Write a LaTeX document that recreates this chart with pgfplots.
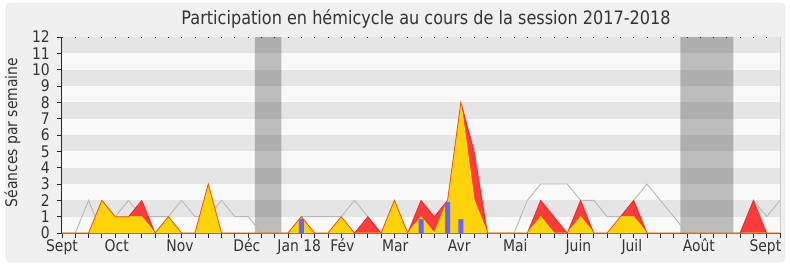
\documentclass[border=0pt]{standalone}
\usepackage{pgfplots}
\pgfplotsset{compat=1.18}
\usepackage{pgfplotstable}
\usepackage{fontspec}
\setmainfont{DejaVu Sans}[FakeStretch=0.87]
\usetikzlibrary{backgrounds}
\definecolor{txt}{HTML}{333333}
\definecolor{redf}{HTML}{FF3A3A}
\definecolor{redd}{HTML}{EE1111}
\definecolor{yel}{HTML}{FFD20A}
\definecolor{yeld}{HTML}{FFE81A}
\definecolor{blu}{HTML}{6666FF}
\definecolor{greyl}{HTML}{B8B8B8}
\definecolor{stripe}{HTML}{E5E5E5}
\definecolor{lightbg}{HTML}{F9F9F9}
\definecolor{outerbg}{HTML}{F0F0F0}
\definecolor{axbrown}{HTML}{3C1E1E}

\pgfplotstableread{
x G R Y
0 0 0 0
1 0 0 0
2 2 0 0
3 0 2 2
4 1 1 1
5 2 1 1
6 1 2 1
7 1 0 0
8 1 1 1
9 2 0 0
10 1 0 0
11 1 3 3
12 2 0 0
13 1 0 0
14 1 0 0
15 0 0 0
16 0 0 0
17 0 0 0
18 1 1 1
19 1 0 0
20 1 0 0
21 1 1 1
22 2 0 0
23 1 1 0
24 0 0 0
25 1 2 2
26 0 0 0
27 1 2 1
28 0 1 0
29 2 2 2
30 2 8 8
31 2 5 2
32 0 0 0
33 0 0 0
34 0 0 0
35 2 0 0
36 3 2 1
37 3 1 0
38 3 0 0
39 2 2 1
40 2 0 0
41 1 0 0
42 1 1 1
43 2 2 1
44 3 0 0
45 2 0 0
46 1 0 0
47 0 0 0
48 0 0 0
49 0 0 0
50 0 0 0
51 0 0 0
52 2 2 0
53 1 0 0
54 2 0 0
}\data

\begin{document}
\begin{tikzpicture}
\begin{axis}[
  name=ax, scale only axis, width=718bp, height=196bp,
  xmin=0, xmax=54, ymin=0, ymax=12,
  axis lines=left, axis line style={-},
  x axis line style={draw=axbrown, line width=1bp},
  y axis line style={draw=black!85, line width=1bp},
  axis background/.style={fill=lightbg},
  xtick={0,...,54}, xticklabels={},
  ytick={0,...,12},
  tick align=outside, major tick length=4.5bp,
  tick style={draw=black!85, line width=0.8bp},
  extra x ticks={0,4.12,8.87,13.9,17.84,21.08,25.06,29.88,34.1,38.84,42.86,47.9,52.9},
  extra x tick labels={Sept,Oct,Nov,Déc,Jan 18,Fév,Mar,Avr,Mai,Juin,Juil,Août,Sept},
  extra x tick style={major tick length=0pt, xticklabel style={anchor=base, inner sep=0pt, yshift=-18.3bp}},
  /pgf/number format/assume math mode=true,
  ticklabel style={font=\fontsize{16bp}{18bp}\selectfont, text=txt},
  yticklabel style={anchor=east, inner sep=0pt, xshift=-7.5bp},
  clip=false,
]
\fill[stripe] (axis cs:0,1) rectangle (axis cs:54,2);
\fill[stripe] (axis cs:0,3) rectangle (axis cs:54,4);
\fill[stripe] (axis cs:0,5) rectangle (axis cs:54,6);
\fill[stripe] (axis cs:0,7) rectangle (axis cs:54,8);
\fill[stripe] (axis cs:0,9) rectangle (axis cs:54,10);
\fill[stripe] (axis cs:0,11) rectangle (axis cs:54,12);
\addplot[fill=black, fill opacity=0.24, draw=none] coordinates {(14.5,0)(14.5,12)(16.5,12)(16.5,0)} \closedcycle;
\addplot[fill=black, fill opacity=0.24, draw=none] coordinates {(46.5,0)(46.5,12)(50.5,12)(50.5,0)} \closedcycle;
\addplot[draw=greyl, line width=0.9bp] table[x=x,y=G] {\data};
\addplot[fill=redf, draw=none] table[x=x,y=R] {\data} \closedcycle;
\addplot[fill=yel, draw=yeld, line width=0.8bp] table[x=x,y=Y] {\data} \closedcycle;
\addplot[draw=redd, draw opacity=0.7, line width=0.8bp] table[x=x,y=R] {\data};
\addplot[ybar, bar width=5bp, fill=blu, draw=none] coordinates {(18,0.85)(27,0.85)(29,1.9)(30,0.85)};
\pgfplotsinvokeforeach{0,...,54}{\draw[black!80, line width=0.8bp] (axis cs:#1,12) -- ++(0,-1.2bp);}
\draw[black!20, line width=0.8bp] (axis cs:54,0) -- (axis cs:54,12);
\end{axis}
\node[anchor=base, text=txt, font=\fontsize{18.5bp}{21bp}\selectfont] at ([xshift=5bp, yshift=12bp]ax.north) {Participation en hémicycle au cours de la session 2017-2018};
\node[rotate=90, text=txt, font=\fontsize{16bp}{18bp}\selectfont] at ([xshift=-49.5bp,yshift=2.5bp]ax.west) {Séances par semaine};
\begin{scope}[on background layer]
\fill[white] ([xshift=-62bp,yshift=-34bp]ax.south west) rectangle ([xshift=10bp,yshift=37bp]ax.north east);
\draw[fill=outerbg, draw=black!12, rounded corners=5bp] ([xshift=-56bp,yshift=-29bp]ax.south west) rectangle ([xshift=5bp,yshift=34bp]ax.north east);
\end{scope}
\pgfresetboundingbox
\path[use as bounding box] ([xshift=-62bp,yshift=-34bp]ax.south west) rectangle ([xshift=10bp,yshift=37bp]ax.north east);
\end{tikzpicture}
\end{document}
